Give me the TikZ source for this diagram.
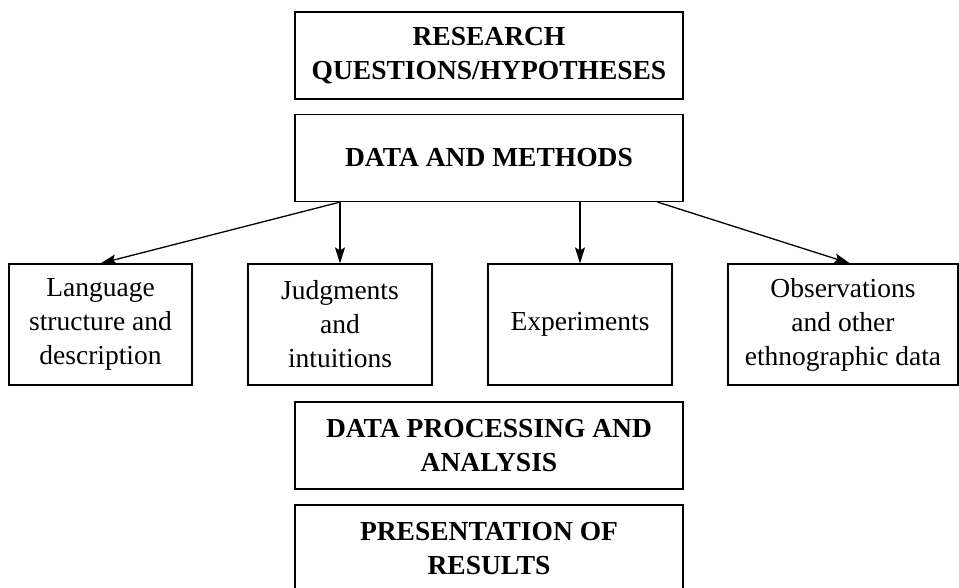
\documentclass[tikz,border=0pt]{standalone}
\usepackage{fontspec}
\setmainfont{Liberation Serif}
\usetikzlibrary{arrows.meta}
\begin{document}
\begin{tikzpicture}[x=1pt,y=-1pt,
  box/.style={draw, line width=1.2pt, inner sep=0pt, align=center,
    font=\fontsize{27.5}{34}\selectfont},
  head/.style={box, font=\fontsize{27.5}{34}\selectfont\bfseries,
    minimum width=388pt, minimum height=87pt},
  leaf/.style={box, minimum height=121pt, minimum width=184pt},
  arr/.style={line width=1.3pt, -{Stealth[length=16pt,width=10pt,inset=3pt]}}]
  \useasboundingbox (0,0) rectangle (959,587);
  % stage boxes down the middle
  \node[head] (rq)   at (489,55.5)  {RESEARCH\\QUESTIONS/HYPOTHESES};
  \node[head] (dm)   at (489,158)   {DATA AND METHODS};
  \node[head] (proc) at (489,445.5) {DATA PROCESSING AND\\ANALYSIS};
  \node[head] (pres) at (489,548.5) {PRESENTATION OF\\RESULTS};
  % kinds of data
  \node[leaf, minimum width=183pt] (lang) at (100.5,324.5) {Language\\structure and\\description};
  \node[leaf] (jud) at (340,324.5) {Judgments\\and\\intuitions};
  \node[leaf] (exp) at (580,324.5) {Experiments};
  \node[leaf, minimum width=230pt] (obs) at (843,324.5) {Observations\\and other\\ethnographic data};
  % branches out of the data and methods box
  \coordinate (dl) at (jud.north |- dm.south);
  \coordinate (de) at (exp.north |- dm.south);
  \coordinate (dr) at ([xshift=-26pt]dm.south east);
  \coordinate (ot) at ([xshift=7pt]obs.north);
  \draw[arr] (dl) -- (lang.north);
  \draw[arr] (dl) -- (jud.north);
  \draw[arr] (de) -- (exp.north);
  \draw[arr] (dr) -- (ot);
\end{tikzpicture}
\end{document}
